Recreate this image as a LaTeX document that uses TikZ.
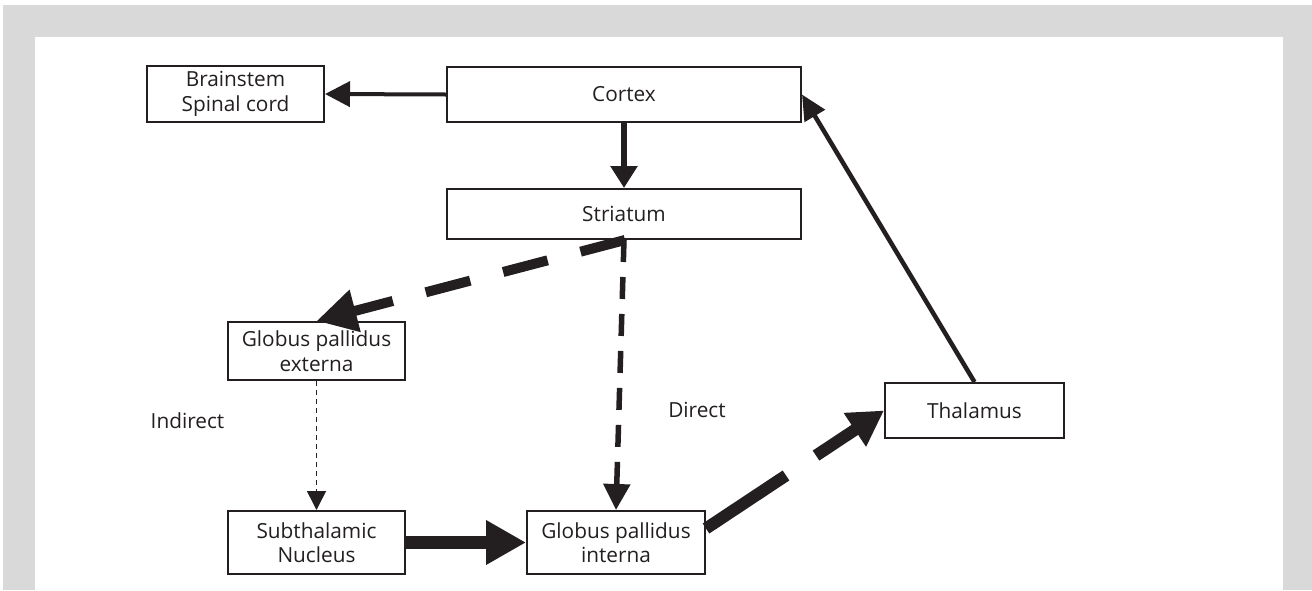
\documentclass[tikz,border=0pt]{standalone}
\usepackage{fontspec}
\setmainfont{Open Sans}
\usetikzlibrary{arrows.meta, calc}
\definecolor{framegray}{HTML}{D9D9D9}
\definecolor{ink}{HTML}{231F20}
\tikzset{
  region/.style={draw=ink, line width=1pt, text=ink, align=center, inner sep=0pt,
                 font=\fontsize{10.4}{12.3}\selectfont},
  wide/.style={region, minimum width=177pt, minimum height=27.5pt},
  small/.style={region, minimum width=88.5pt, minimum height=#1},
  tag/.style={text=ink, font=\fontsize{10.4}{12.3}\selectfont},
  link/.style={draw=ink, line width=2pt, -{Triangle[length=12.5pt, width=12.5pt]}},
}

\begin{document}
\begin{tikzpicture}[x=0.5pt, y=-0.5pt]
\useasboundingbox (0,0) rectangle (1312,590);
% Frame
\fill[framegray] (3,5) rectangle (1312,590);
\fill[white] (35,37) rectangle (1283,590);

\node[small=28pt] (brainstem) at (235.5,94) {Brainstem\\Spinal cord};
\node[wide] (cortex) at (624,94.5) {Cortex};
\node[wide, minimum height=25pt] (striatum) at (624,214) {Striatum};
\node[small=29pt] (gpe) at (316.5,351) {Globus pallidus\\externa};
\node[small=31.5pt] (stn) at (316.5,542.5) {Subthalamic\\Nucleus};
\node[small=31.5pt, minimum width=89pt] (gpi) at (616,542.5) {Globus pallidus\\interna};
\node[small=27.5pt, minimum width=89.5pt] (thalamus) at (974.5,410.5) {Thalamus};

\node[tag] (indirect) at (187.5,421) {Indirect};
\node[tag] (direct) at (697,410) {Direct};

% Solid links
\draw[link] (cortex.west) -- (brainstem.east);
\draw[link, line width=2.75pt, -{Triangle[length=11pt, width=13pt]}] (cortex.south) -- (striatum.north);
\draw[link, line width=2.25pt, -{Triangle[length=12.5pt, width=11.5pt]}] (thalamus.north) -- (cortex.east);
\draw[link, line width=6.25pt, -{Triangle[length=20pt, width=21pt]}] (stn.east) -- (gpi.west);

% Dashed links
\draw[link, line width=5pt, dash pattern=on 23pt off 17pt, -{Triangle[length=20pt, width=20.5pt]}] ([xshift=0.5pt]striatum.south) -- (gpe.north);
\draw[link, line width=2.75pt, dash pattern=on 11pt off 7.5pt, -{Triangle[length=13pt, width=13pt]}] (striatum.south) -- (gpi.north);
\draw[link, line width=0.75pt, dash pattern=on 2.5pt off 2pt, -{Triangle[length=9.5pt, width=9.5pt]}] (gpe.south) -- (stn.north);
\draw[link, line width=6pt, dash pattern=on 48pt off 18pt, -{Triangle[length=17.5pt, width=19pt]}] ([yshift=7pt]gpi.east) -- (thalamus.west);

\end{tikzpicture}
\end{document}
